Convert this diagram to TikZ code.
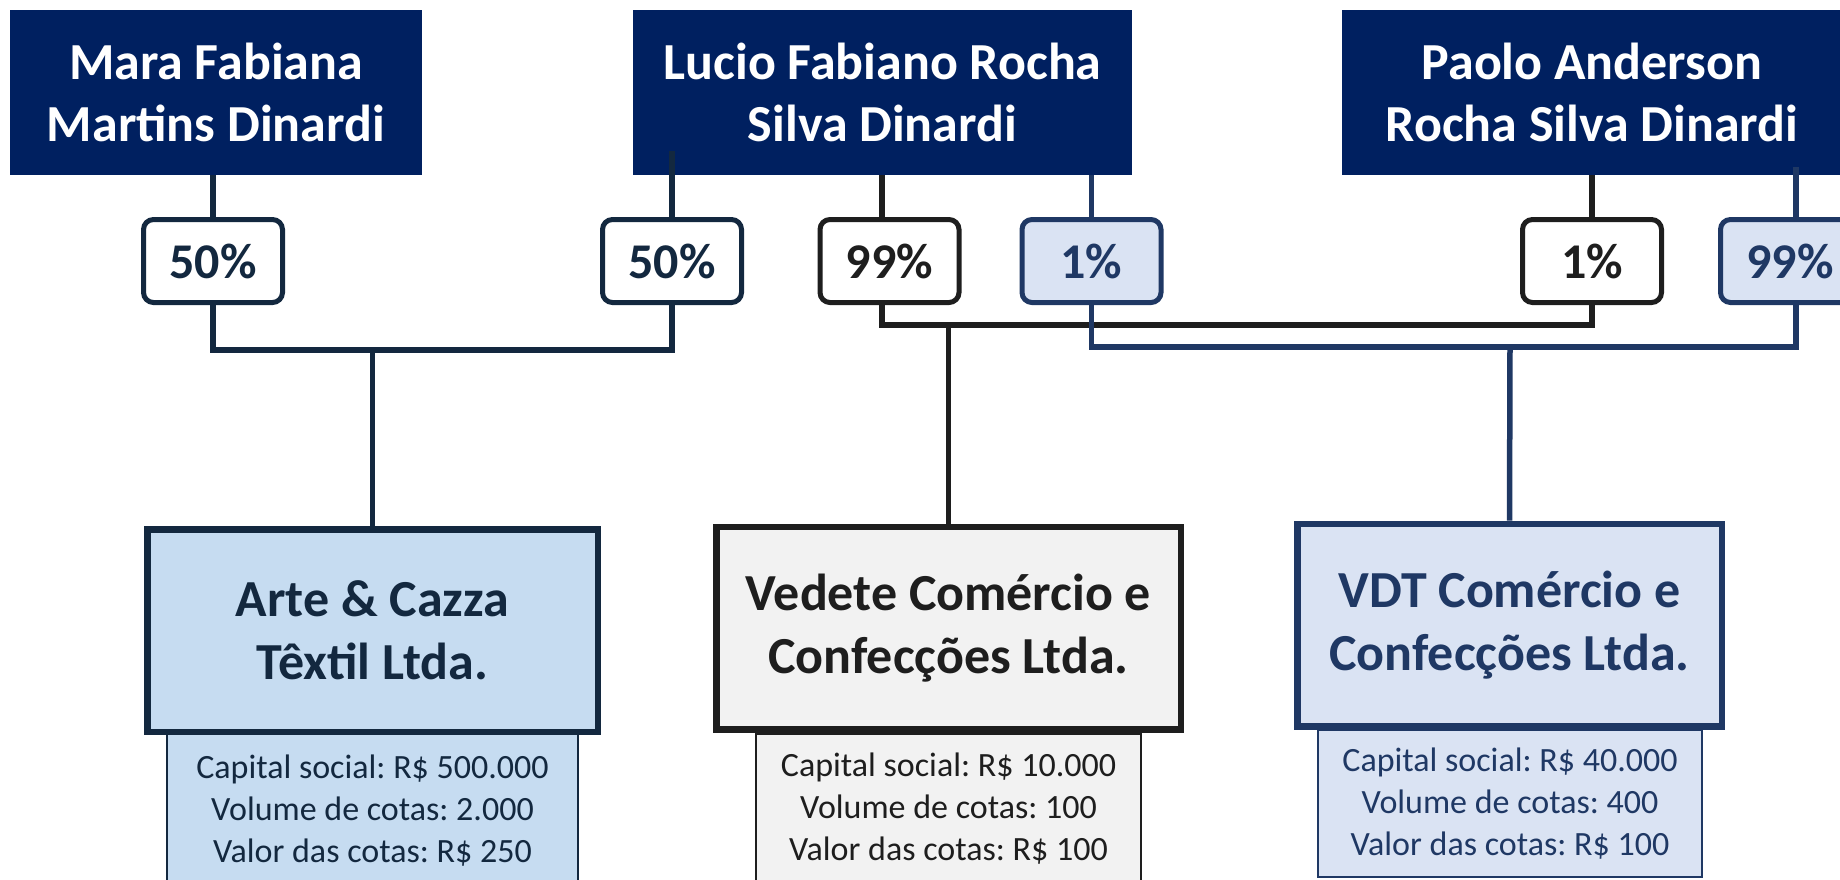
\documentclass[tikz,border=0pt]{standalone}
\usepackage{fontspec}
\setmainfont{Carlito}
\frenchspacing
\definecolor{navy}{HTML}{002060}
\definecolor{slateA}{HTML}{13283F}
\definecolor{blackB}{HTML}{1E1E1E}
\definecolor{blueC}{HTML}{1F3864}
\definecolor{fillA}{HTML}{C6DCF1}
\definecolor{fillB}{HTML}{F2F2F2}
\definecolor{fillC}{HTML}{DAE3F3}
\tikzset{
  person/.style={fill=navy, text=white, align=center, inner sep=0pt,
    font=\bfseries\fontsize{52}{62}\selectfont, minimum height=165pt},
  pct/.style={rounded corners=10pt, line width=5pt, inner sep=0pt,
    minimum width=139pt, minimum height=83pt, fill=white,
    font=\bfseries\fontsize{50}{60}\selectfont},
  company/.style={line width=6.5pt, inner sep=0pt, align=center,
    minimum height=202.5pt, font=\bfseries\fontsize{52}{63}\selectfont},
  info/.style={line width=1.8pt, inner sep=0pt, align=center, anchor=north,
    font=\fontsize{34}{42}\selectfont},
  conn/.style={line width=5.5pt},
}
\begin{document}
\begin{tikzpicture}[x=1pt,y=-1pt]
\useasboundingbox (0,0) rectangle (1840,879);
% persons
\node[person, minimum width=412pt] (mara) at (216,92.5) {Mara Fabiana\\Martins Dinardi};
\node[person, minimum width=499pt] (lucio) at (882.5,92.5) {Lucio Fabiano Rocha\\Silva Dinardi};
\node[person, minimum width=500pt] (paolo) at (1592,92.5) {Paolo Anderson\\Rocha Silva Dinardi};
% start points inside person boxes
\coordinate (l2) at (672,151);
\coordinate (pb) at (1796,167);
% percentage boxes
\node[pct, draw=slateA, text=slateA] (p1) at (213,261) {50\%};
\node[pct, draw=slateA, text=slateA] (p2) at (672,261) {50\%};
\node[pct, draw=blackB, text=blackB] (p3) at (889.5,261) {99\%};
\node[pct, draw=blueC, text=blueC, fill=fillC] (p4) at (1091.5,261) {1\%};
\node[pct, draw=blackB, text=blackB] (p5) at (1592,261) {1\%};
\node[pct, draw=blueC, text=blueC, fill=fillC] (p6) at (1790,261) {99\%};
% info boxes
\node[info, draw=slateA, text=slateA, fill=fillA, minimum width=411pt, minimum height=154pt] (iA) at (372.5,733) {Capital social: R\$ 500.000\\Volume de cotas: 2.000\\Valor das cotas: R\$ 250};
\node[info, draw=blackB, text=blackB, fill=fillB, minimum width=385pt, minimum height=150pt] (iB) at (948.5,733) {Capital social: R\$ 10.000\\Volume de cotas: 100\\Valor das cotas: R\$ 100};
\node[info, draw=blueC, text=blueC, fill=fillC, minimum width=384pt, minimum height=147pt] (iC) at (1510,729) {Capital social: R\$ 40.000\\Volume de cotas: 400\\Valor das cotas: R\$ 100};
% companies
\node[company, draw=slateA, text=slateA, fill=fillA, minimum width=450.5pt] (arte) at (372.5,630.5) {Arte \& Cazza\\Têxtil Ltda.};
\node[company, draw=blackB, text=blackB, fill=fillB, minimum width=464.5pt] (vedete) at (948.5,628) {Vedete Comércio e\\Confecções Ltda.};
\node[company, draw=blueC, text=blueC, fill=fillC, minimum width=424.5pt] (vdt) at (1509.5,625) {VDT Comércio e\\Confecções Ltda.};
% junctions
\coordinate (jA) at (372.5,350);
\coordinate (jB) at (948.5,325);
\coordinate (jC) at (1510,347);
% connectors group A
\draw[conn, slateA] (mara.south -| p1.north) -- (p1.north);
\draw[conn, slateA] (l2) -- (p2.north);
\draw[conn, slateA] (p1.south) |- (jA);
\draw[conn, slateA] (p2.south) |- (jA);
\draw[conn, slateA] (jA) -- (arte.north);
% connectors group B
\draw[conn, blackB] ([xshift=-7.5pt]p3.north |- lucio.south) -- ([xshift=-7.5pt]p3.north);
\draw[conn, blackB] (paolo.south -| p5.north) -- (p5.north);
\draw[conn, blackB] ([xshift=-7.5pt]p3.south) |- (jB) -| (p5.south);
\draw[conn, blackB] (jB) -- (vedete.north);
% connectors group C
\draw[conn, blueC] (p4.north |- lucio.south) -- (p4.north);
\draw[conn, blueC] (pb) -- ([xshift=6pt]p6.north);
\draw[conn, blueC] (p4.south) |- (jC);
\draw[conn, blueC] ([xshift=6pt]p6.south) |- (jC);
\draw[conn, blueC] (jC) -- (vdt.north);
\end{tikzpicture}
\end{document}
